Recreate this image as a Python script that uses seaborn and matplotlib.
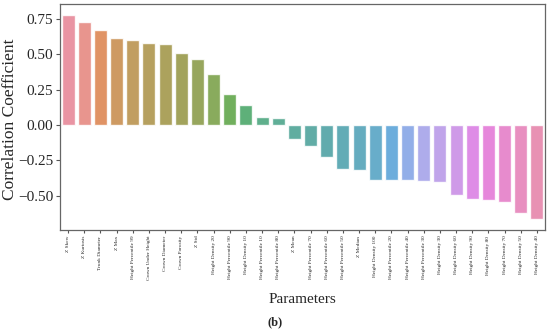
import pandas as pd
import seaborn as sns
from matplotlib import pyplot as plt

params = ['Z Skew', 'Z Kurtosis', 'Trunk Diameter', 'Z Max', 'Height Percentile 99',
          'Crown Under Height', 'Crown Diameter', 'Crown Porosity', 'Z Std',
          'Height Density 20', 'Height Percentile 90', 'Height Density 10',
          'Height Percentile 10', 'Height Percentile 80', 'Z Mean', 'Height Percentile 70',
          'Height Percentile 60', 'Height Percentile 50', 'Z Median', 'Height Density 100',
          'Height Percentile 20', 'Height Percentile 40', 'Height Percentile 30',
          'Height Density 30', 'Height Density 60', 'Height Density 90', 'Height Density 80',
          'Height Density 70', 'Height Density 50', 'Height Density 40']
corr = [0.778, 0.727, 0.670, 0.616, 0.600, 0.580, 0.571, 0.507, 0.470,
        0.363, 0.220, 0.140, 0.060, 0.050, -0.100, -0.149, -0.229, -0.311,
        -0.320, -0.389, -0.389, -0.389, -0.399, -0.406, -0.498, -0.524,
        -0.531, -0.547, -0.625, -0.667]

df = pd.DataFrame({'Parameters': params, 'Correlation Coefficient': corr})

sns.set_style('white')
plt.rcParams['font.family'] = ['Liberation Serif', 'DejaVu Serif']

fig, ax = plt.subplots(figsize=(5.5, 3.32), dpi=100)
sns.barplot(data=df, x='Parameters', y='Correlation Coefficient', hue='Parameters',
            palette='husl', legend=False, alpha=0.85, ax=ax)

ax.set_ylim(-0.743, 0.856)
ax.set_yticks([-0.5, -0.25, 0, 0.25, 0.5, 0.75])
ax.tick_params(axis='y', labelsize=11, left=True, length=3, pad=2, color='#555555')
ax.tick_params(axis='x', labelsize=3.8, labelrotation=90, bottom=True, length=2, pad=2, color='#555555')
ax.set_xlabel('Parameters', fontsize=11)
ax.xaxis.set_label_coords(0.5, -0.28)
ax.set_ylabel('Correlation Coefficient', fontsize=12.5)
ax.yaxis.set_label_coords(-0.086, 0.49)
for s in ax.spines.values():
    s.set_color('#666666')
    s.set_linewidth(0.9)

fig.text(0.5, 0.02, '(b)', ha='center', fontsize=9, fontweight='bold')
fig.subplots_adjust(left=0.109, right=0.991, top=0.988, bottom=0.307)
fig.savefig('out.png', dpi=100)
